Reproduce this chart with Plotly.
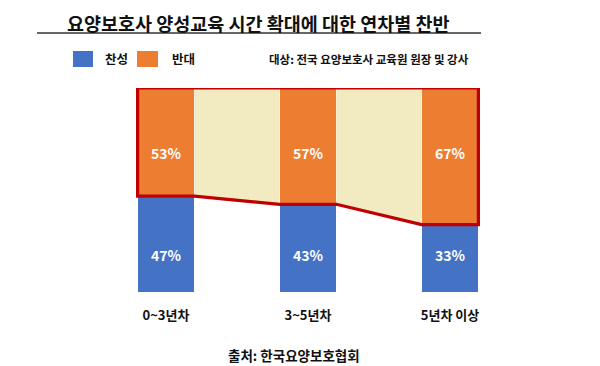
import plotly.graph_objects as go

categories = ["0~3년차", "3~5년차", "5년차 이상"]
agree = [47, 43, 33]      # 찬성
oppose = [53, 57, 67]     # 반대
series_names = ["찬성", "반대"]
title_text = "요양보호사 양성교육 시간 확대에 대한 연차별 찬반"
subject_text = "대상: 전국 요양보호사 교육원 원장 및 강사"
source_text = "출처: 한국요양보호협회"

OFF = 8                      # page body margin
W, H = 600 - OFF, 366 - OFF
BLUE = "#4472C4"
ORANGE = "#ED7D31"
PALE = "#F2EBC2"
RED = "#C00000"
FONT = "Noto Sans CJK KR"
BW = 0.4

def px(x):
    return (x - OFF) / W

def py(y):
    return 1 - (y - OFF) / H

xs = list(range(len(categories)))
fig = go.Figure()
fig.add_trace(go.Bar(x=xs, y=agree, width=BW, marker=dict(color=BLUE, line=dict(width=0)),
                     name=series_names[0], showlegend=False))
fig.add_trace(go.Bar(x=xs, y=oppose, width=BW, marker=dict(color=ORANGE, line=dict(width=0)),
                     name=series_names[1], showlegend=False))

# pale fill in gaps between bars (from top down to the boundary line)
gx, gy = [], []
for i in range(len(xs) - 1):
    top_i = agree[i] + oppose[i]
    top_j = agree[i + 1] + oppose[i + 1]
    gx += [xs[i] + BW / 2, xs[i + 1] - BW / 2, xs[i + 1] - BW / 2, xs[i] + BW / 2, xs[i] + BW / 2, None]
    gy += [top_i, top_j, agree[i + 1], agree[i], top_i, None]
fig.add_trace(go.Scatter(x=gx, y=gy, mode="lines", fill="toself", fillcolor=PALE,
                         line=dict(width=0, color=PALE), showlegend=False, hoverinfo="skip"))

# red outline around the opposition area
ox = [xs[0] - BW / 2, xs[-1] + BW / 2]
oy = [agree[0] + oppose[0], agree[-1] + oppose[-1]]
for i in reversed(range(len(xs))):
    ox += [xs[i] + BW / 2, xs[i] - BW / 2]
    oy += [agree[i], agree[i]]
ox.append(xs[0] - BW / 2)
oy.append(agree[0] + oppose[0])
fig.add_trace(go.Scatter(x=ox, y=oy, mode="lines", line=dict(color=RED, width=3.2),
                         showlegend=False, hoverinfo="skip"))

def note(x, y, text, size, xanchor="center", yanchor="middle", color="#111", xref="paper", yref="paper"):
    return dict(x=x, y=y, xref=xref, yref=yref, text=text, showarrow=False,
                xanchor=xanchor, yanchor=yanchor,
                font=dict(family=FONT, size=size, color=color, weight="bold"))

ann = []
for i in xs:
    ann.append(note(i, 68, f"{oppose[i]}%", 14, color="white", xref="x", yref="y"))
    ann.append(note(i, 18, f"{agree[i]}%", 14, color="white", xref="x", yref="y"))

ann.append(note(px(258), 1, title_text, 18.5, yanchor="top"))
ann.append(note(px(103), py(59), series_names[0], 12.5, xanchor="left"))
ann.append(note(px(170), py(59), series_names[1], 12.5, xanchor="left"))
ann.append(note(px(471), py(59), subject_text, 11.5, xanchor="right"))
ann.append(note(px(294), py(355), source_text, 13.5))

shapes = [
    dict(type="line", xref="paper", yref="paper", x0=px(37), x1=px(481), y0=py(33), y1=py(33),
         line=dict(color="#333", width=1.5)),
    dict(type="rect", xref="paper", yref="paper", x0=px(73), x1=px(93), y0=py(51), y1=py(67),
         fillcolor=BLUE, line=dict(width=0)),
    dict(type="rect", xref="paper", yref="paper", x0=px(137), x1=px(158), y0=py(51), y1=py(67),
         fillcolor=ORANGE, line=dict(width=0)),
]

fig.update_layout(
    width=W, height=H, margin=dict(l=0, r=0, t=0, b=0),
    paper_bgcolor="white", plot_bgcolor="white", barmode="stack", bargap=0,
    annotations=ann, shapes=shapes, showlegend=False,
    xaxis=dict(domain=[px(95), px(521)], range=[-0.5, 2.5], tickvals=xs, ticktext=categories,
               showgrid=False, zeroline=False, showline=False, ticks="",
               tickfont=dict(family=FONT, size=13, color="#111", weight="bold"),
               ticklabelstandoff=14, fixedrange=True),
    yaxis=dict(domain=[py(292), py(88)], range=[0, 100], visible=False, fixedrange=True),
)

fig.write_html("out.html")
